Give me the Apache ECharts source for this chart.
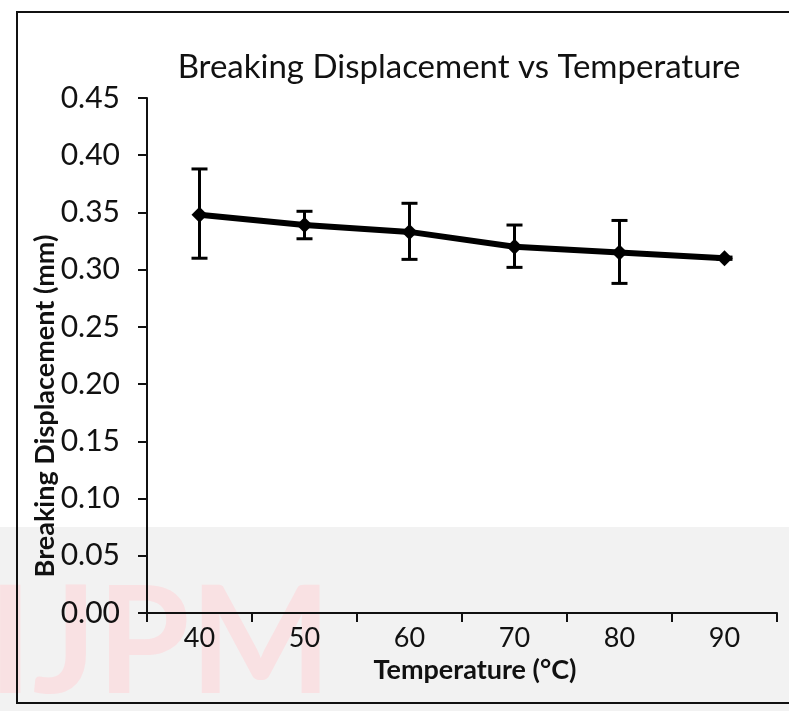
<!DOCTYPE html>
<html>
<head>
<meta charset="utf-8">
<script src="https://cdn.jsdelivr.net/npm/echarts@6/dist/echarts.min.js"></script>
<style>
html,body{margin:0;padding:0;background:#fff;}
#main{width:789px;height:711px;}
</style>
</head>
<body>
<div id="main"></div>
<script>
// temperatures (deg C)
var temps = ['40', '50', '60', '70', '80', '90'];
// mean breaking displacement (mm)
var disp = [0.348, 0.339, 0.333, 0.320, 0.315, 0.310];
// error bar ends
var errHigh = [0.388, 0.351, 0.358, 0.339, 0.343, 0.311];
var errLow = [0.310, 0.327, 0.309, 0.302, 0.288, 0.309];
var yTicks = [0, 0.05, 0.10, 0.15, 0.20, 0.25, 0.30, 0.35, 0.40, 0.45];

var errData = [];
for (var i = 0; i < temps.length; i++) {
    errData.push([i, errHigh[i], errLow[i]]);
}

var myChart = echarts.init(document.getElementById('main'));

var option = {
    backgroundColor: '#fff',
    animation: false,
    title: {
        text: 'Breaking Displacement vs Temperature',
        left: 454,
        top: 46,
        textAlign: 'center',
        textStyle: {
            fontFamily: 'Lato',
            fontWeight: 'normal',
            fontSize: 33,
            color: '#111'
        }
    },
    graphic: [
        // faint scan background / watermark
        {type: 'rect', z: -10, shape: {x: 0, y: 527, width: 789, height: 184}, style: {fill: '#f2f2f2'}},
        {type: 'text', z: -9, left: -12, top: 570, style: {text: 'IJPM', fill: '#f9e1e3', font: 'bold 150px Lato'}},
        // y axis title, sits lower than the axis middle in the original
        {
            type: 'text', z: 5, x: 45, y: 406, rotation: Math.PI / 2,
            style: {text: 'Breaking Displacement (mm)', fill: '#111', font: 'bold 27px Lato', align: 'center', verticalAlign: 'middle'}
        },
        // frame
        {type: 'rect', z: 10, shape: {x: 17, y: 12, width: 800, height: 691}, style: {fill: null, stroke: '#111', lineWidth: 2}}
    ],
    grid: {
        left: 147,
        right: 12,
        top: 98,
        bottom: 98
    },
    xAxis: {
        type: 'category',
        data: temps,
        boundaryGap: true,
        name: 'Temperature (\u00B0C)',
        nameLocation: 'middle',
        nameGap: 36,
        nameTextStyle: {fontFamily: 'Lato', fontWeight: 'bold', fontSize: 27, color: '#111', padding: [0, 0, 0, 26]},
        axisLine: {lineStyle: {color: '#111', width: 2}},
        axisTick: {show: true, inside: false, length: 9, alignWithLabel: false, lineStyle: {color: '#111', width: 2}},
        axisLabel: {fontFamily: 'Lato', fontSize: 27, color: '#111', margin: 12},
        splitLine: {show: false}
    },
    yAxis: {
        type: 'value',
        min: yTicks[0],
        max: yTicks[yTicks.length - 1],
        interval: 0.05,
        axisLine: {show: true, lineStyle: {color: '#111', width: 2}},
        axisTick: {show: true, length: 9, lineStyle: {color: '#111', width: 2}},
        axisLabel: {
            fontFamily: 'Lato', fontSize: 30, color: '#111', margin: 27,
            formatter: function (v) { return v.toFixed(2); }
        },
        splitLine: {show: false}
    },
    series: [
        {
            name: 'Breaking Displacement',
            type: 'line',
            data: disp,
            symbol: 'diamond',
            symbolSize: 16,
            itemStyle: {color: '#000'},
            lineStyle: {color: '#000', width: 6},
            z: 3
        },
        {
            name: 'error',
            type: 'custom',
            data: errData,
            z: 4,
            renderItem: function (params, api) {
                var idx = api.value(0);
                var hi = api.coord([idx, api.value(1)]);
                var lo = api.coord([idx, api.value(2)]);
                var w = 8;
                var st = {stroke: '#000', lineWidth: 3};
                return {
                    type: 'group',
                    children: [
                        {type: 'line', shape: {x1: hi[0], y1: hi[1], x2: lo[0], y2: lo[1]}, style: st},
                        {type: 'line', shape: {x1: hi[0] - w, y1: hi[1], x2: hi[0] + w, y2: hi[1]}, style: st},
                        {type: 'line', shape: {x1: lo[0] - w, y1: lo[1], x2: lo[0] + w, y2: lo[1]}, style: st}
                    ]
                };
            }
        }
    ]
};

myChart.setOption(option);
</script>
</body>
</html>
